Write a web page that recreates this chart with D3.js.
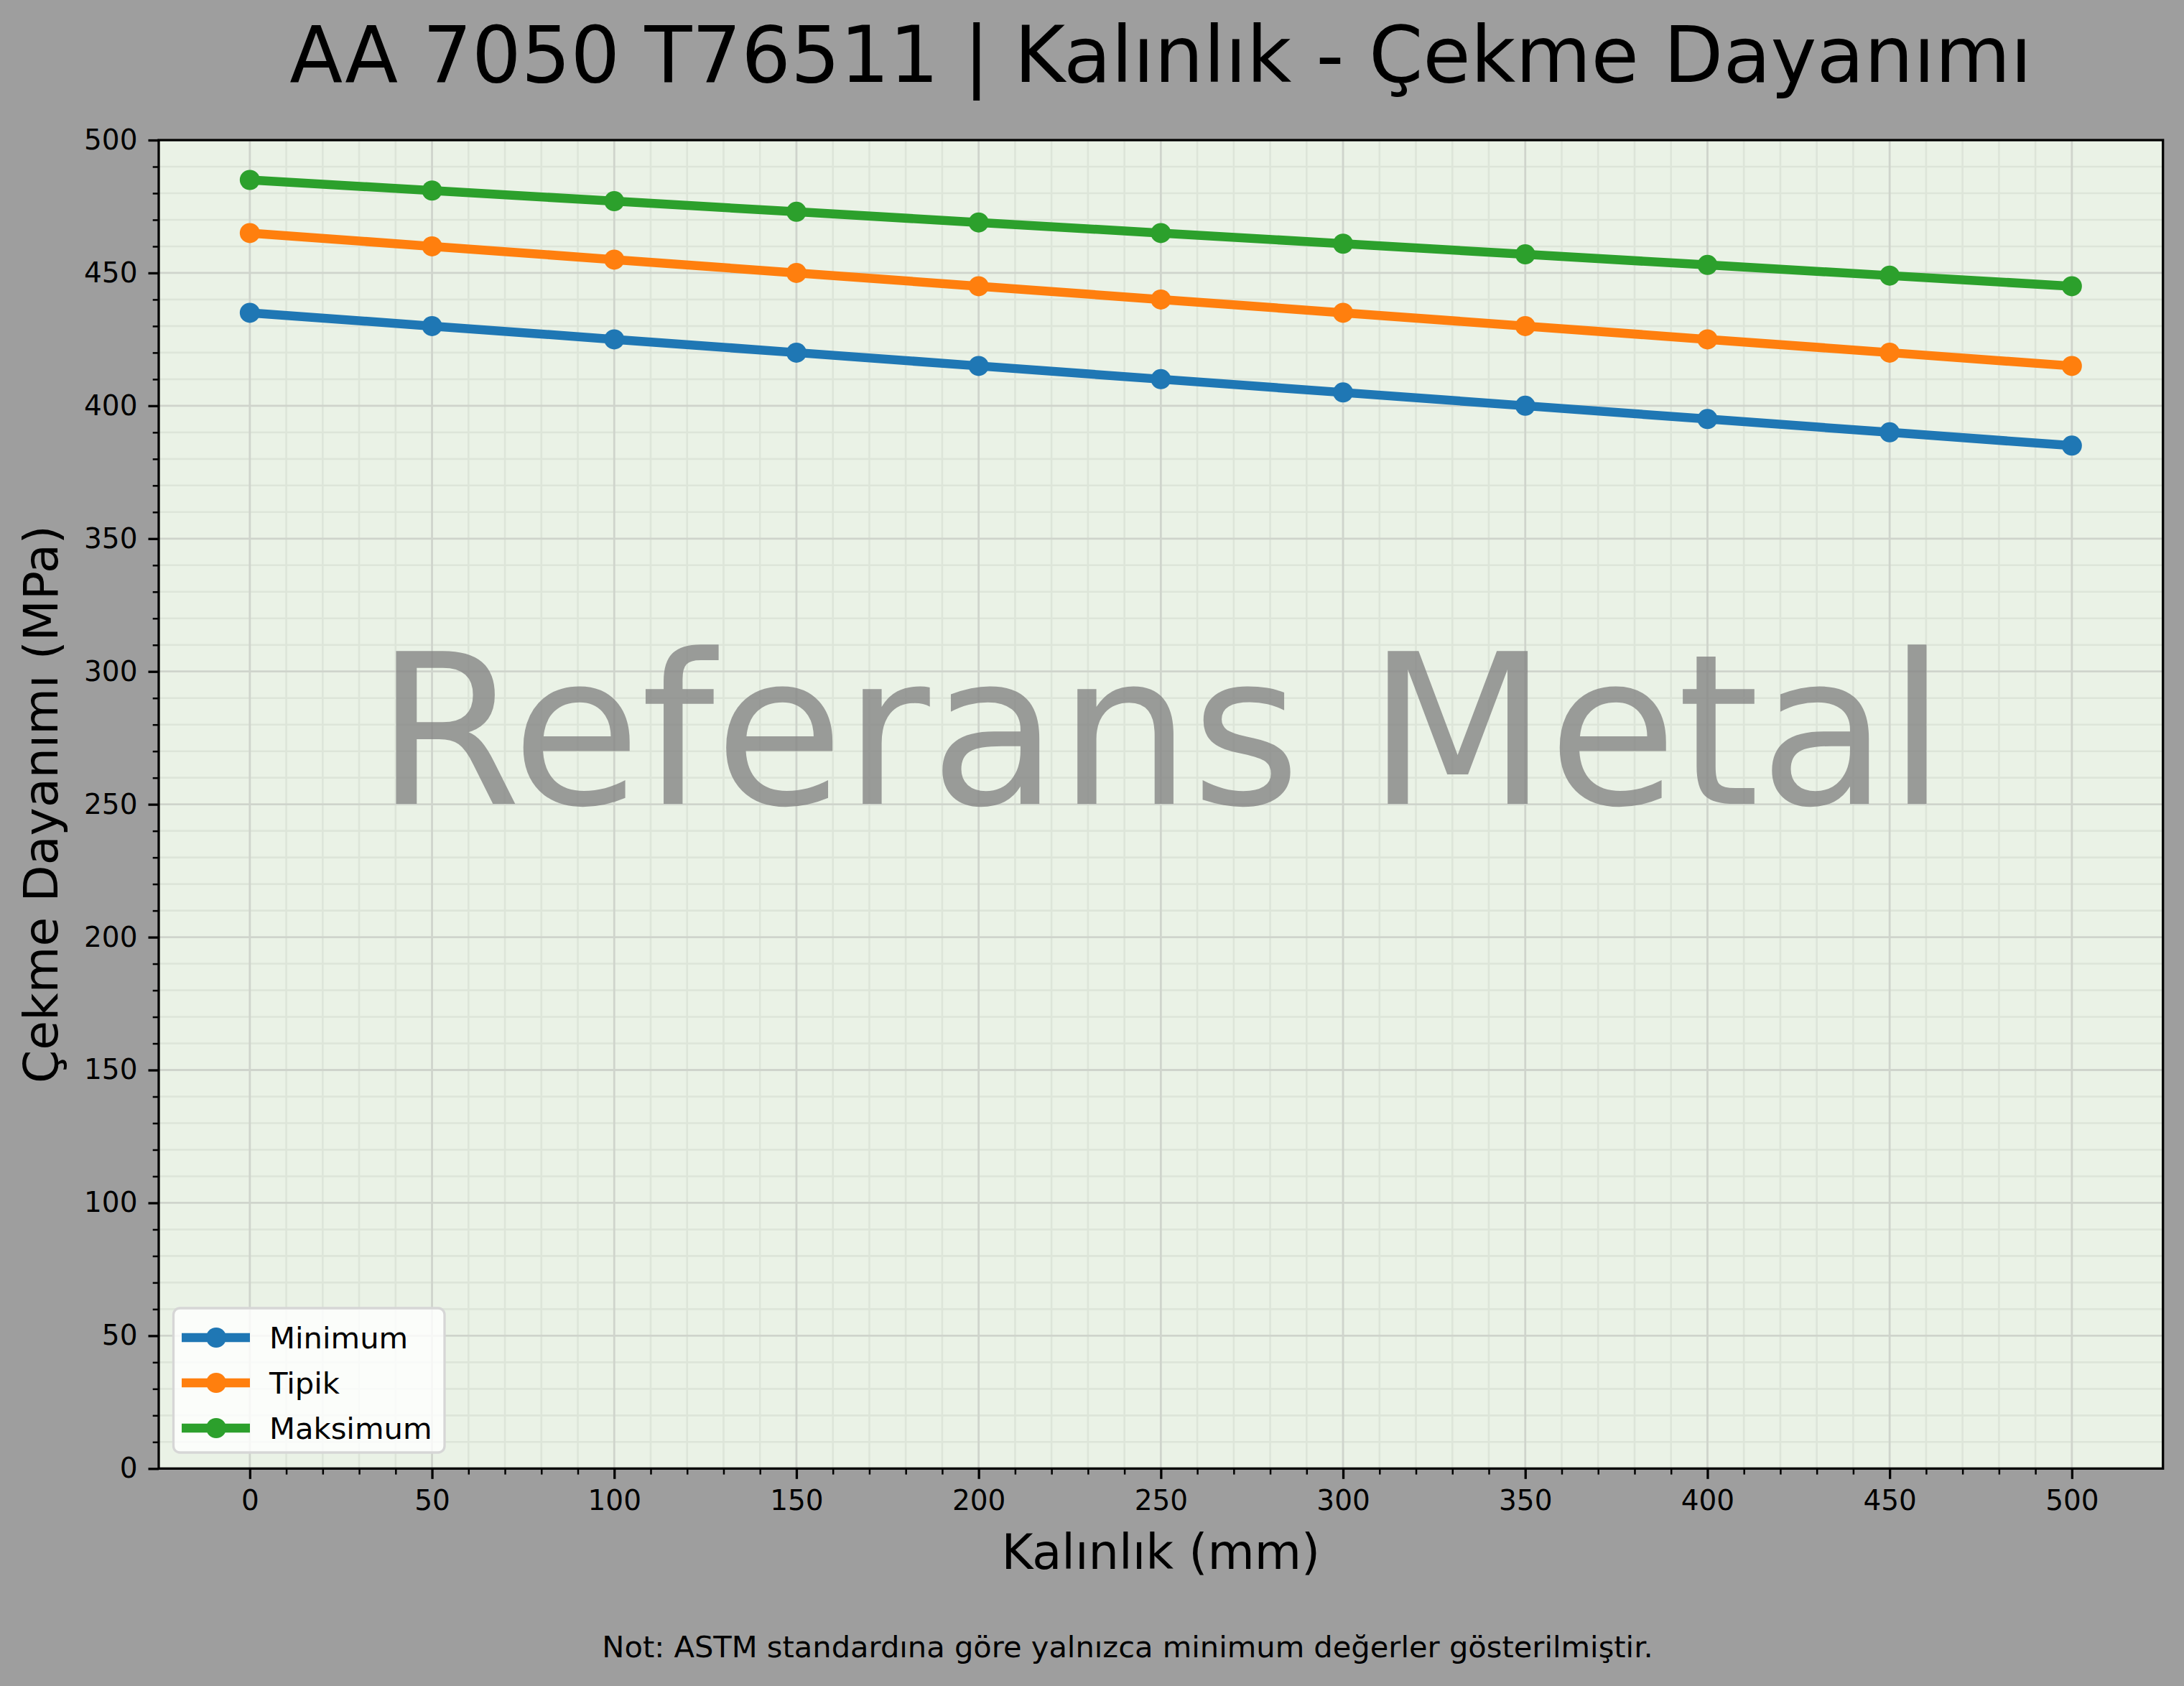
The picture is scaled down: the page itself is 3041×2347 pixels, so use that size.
<!DOCTYPE html>
<html>
<head>
<meta charset="utf-8">
<script src="https://cdn.jsdelivr.net/npm/d3@7"></script>
<style>
  html, body { margin: 0; padding: 0; background: #9e9e9e; }
  svg { display: block; }
  text { font-family: "DejaVu Sans", sans-serif; }
</style>
</head>
<body>
<svg id="chart" width="3041" height="2347"></svg>
<script>
// ---- data ----
const thickness = [0, 50, 100, 150, 200, 250, 300, 350, 400, 450, 500];
const minimumValues = [435, 430, 425, 420, 415, 410, 405, 400, 395, 390, 385];
const tipikValues = [465, 460, 455, 450, 445, 440, 435, 430, 425, 420, 415];
const maksimumValues = [485, 481, 477, 473, 469, 465, 461, 457, 453, 449, 445];
const seriesNames = ["Minimum", "Tipik", "Maksimum"];
const seriesColors = ["#1f77b4", "#ff7f0e", "#2ca02c"];
const xTickValues = [0, 50, 100, 150, 200, 250, 300, 350, 400, 450, 500];
const yTickValues = [0, 50, 100, 150, 200, 250, 300, 350, 400, 450, 500];
const titleText = "AA 7050 T76511 | Kalınlık - Çekme Dayanımı";
const xLabelText = "Kalınlık (mm)";
const yLabelText = "Çekme Dayanımı (MPa)";
const watermarkText = "Referans Metal";
const noteText = "Not: ASTM standardına göre yalnızca minimum değerler gösterilmiştir.";

// ---- layout ----
const W = 3041, H = 2347;
const plot = { left: 221, right: 3011.7, top: 195, bottom: 2044.3 };

const svg = d3.select("#chart");
svg.append("rect").attr("width", W).attr("height", H).attr("fill", "#9e9e9e");

const x = d3.scaleLinear().domain([-25, 525]).range([plot.left, plot.right]);
const y = d3.scaleLinear().domain([0, 500]).range([plot.bottom, plot.top]);

// axes background
svg.append("rect")
  .attr("x", plot.left).attr("y", plot.top)
  .attr("width", plot.right - plot.left).attr("height", plot.bottom - plot.top)
  .attr("fill", "#eaf2e6");

// minor grid
const xMinor = d3.range(0, 501, 10).filter(v => v % 50 !== 0);
const yMinor = d3.range(0, 501, 10).filter(v => v % 50 !== 0);
const gridG = svg.append("g");
gridG.selectAll(".xminor").data(xMinor).enter().append("line")
  .attr("x1", d => x(d)).attr("x2", d => x(d))
  .attr("y1", plot.top).attr("y2", plot.bottom)
  .attr("stroke", "#dde5d9").attr("stroke-width", 2.6);
gridG.selectAll(".yminor").data(yMinor).enter().append("line")
  .attr("x1", plot.left).attr("x2", plot.right)
  .attr("y1", d => y(d)).attr("y2", d => y(d))
  .attr("stroke", "#dde5d9").attr("stroke-width", 2.6);
// major grid
gridG.selectAll(".xmajor").data(xTickValues).enter().append("line")
  .attr("x1", d => x(d)).attr("x2", d => x(d))
  .attr("y1", plot.top).attr("y2", plot.bottom)
  .attr("stroke", "#cfd4cc").attr("stroke-width", 2.8);
gridG.selectAll(".ymajor").data(yTickValues).enter().append("line")
  .attr("x1", plot.left).attr("x2", plot.right)
  .attr("y1", d => y(d)).attr("y2", d => y(d))
  .attr("stroke", "#cfd4cc").attr("stroke-width", 2.8);

// watermark
svg.append("text")
  .attr("x", (plot.left + plot.right) / 2)
  .attr("y", 1119)
  .attr("text-anchor", "middle")
  .attr("font-size", 292)
  .attr("fill", "#808080")
  .attr("fill-opacity", 0.76)
  .text(watermarkText);

// series
const allSeries = [minimumValues, tipikValues, maksimumValues];
const line = d3.line().x((d, i) => x(thickness[i])).y(d => y(d));
allSeries.forEach((vals, si) => {
  svg.append("path")
    .datum(vals)
    .attr("d", line)
    .attr("fill", "none")
    .attr("stroke", seriesColors[si])
    .attr("stroke-width", 12.5)
    .attr("stroke-linejoin", "round")
    .attr("stroke-linecap", "butt");
  svg.append("g").selectAll("circle").data(vals).enter().append("circle")
    .attr("cx", (d, i) => x(thickness[i]))
    .attr("cy", d => y(d))
    .attr("r", 14)
    .attr("fill", seriesColors[si]);
});

// spines
svg.append("rect")
  .attr("x", plot.left).attr("y", plot.top)
  .attr("width", plot.right - plot.left).attr("height", plot.bottom - plot.top)
  .attr("fill", "none").attr("stroke", "#000").attr("stroke-width", 3.3);

// x axis (major)
const xAxis = d3.axisBottom(x).tickValues(xTickValues).tickSize(14.5).tickPadding(16).tickFormat(d3.format("d"));
const gx = svg.append("g").attr("transform", `translate(0,${plot.bottom})`).call(xAxis);
gx.select(".domain").remove();
gx.selectAll(".tick line").attr("stroke", "#000").attr("stroke-width", 3.3);
gx.selectAll(".tick text").attr("font-size", 39).attr("fill", "#000")
  .attr("font-family", "DejaVu Sans").attr("dy", "0.71em");
// x minor ticks
const gxm = svg.append("g").attr("transform", `translate(0,${plot.bottom})`)
  .call(d3.axisBottom(x).tickValues(xMinor).tickSize(8.3).tickFormat(""));
gxm.select(".domain").remove();
gxm.selectAll(".tick line").attr("stroke", "#000").attr("stroke-width", 2.5);

// y axis (major)
const yAxis = d3.axisLeft(y).tickValues(yTickValues).tickSize(14.5).tickPadding(15).tickFormat(d3.format("d"));
const gy = svg.append("g").attr("transform", `translate(${plot.left},0)`).call(yAxis);
gy.select(".domain").remove();
gy.selectAll(".tick line").attr("stroke", "#000").attr("stroke-width", 3.3);
gy.selectAll(".tick text").attr("font-size", 39).attr("fill", "#000")
  .attr("font-family", "DejaVu Sans");
// y minor ticks
const gym = svg.append("g").attr("transform", `translate(${plot.left},0)`)
  .call(d3.axisLeft(y).tickValues(yMinor).tickSize(8.3).tickFormat(""));
gym.select(".domain").remove();
gym.selectAll(".tick line").attr("stroke", "#000").attr("stroke-width", 2.5);

// title
svg.append("text")
  .attr("x", (plot.left + plot.right) / 2).attr("y", 114)
  .attr("text-anchor", "middle").attr("font-size", 108).attr("fill", "#000")
  .text(titleText);

// axis labels
svg.append("text")
  .attr("x", (plot.left + plot.right) / 2).attr("y", 2184)
  .attr("text-anchor", "middle").attr("font-size", 67).attr("fill", "#000")
  .text(xLabelText);
svg.append("text")
  .attr("transform", `translate(80,${(plot.top + plot.bottom) / 2}) rotate(-90)`)
  .attr("text-anchor", "middle").attr("font-size", 66.5).attr("fill", "#000")
  .text(yLabelText);

// footnote
svg.append("text")
  .attr("x", 1570).attr("y", 2307)
  .attr("text-anchor", "middle").attr("font-size", 41.6).attr("fill", "#000")
  .text(noteText);

// legend
const legend = svg.append("g");
legend.append("rect")
  .attr("x", 241.5).attr("y", 1821).attr("width", 377.5).attr("height", 201)
  .attr("rx", 9).attr("ry", 9)
  .attr("fill", "#ffffff").attr("fill-opacity", 0.8)
  .attr("stroke", "#d6d6d6").attr("stroke-width", 3.3);
const legendRowsY = [1862, 1925, 1988];
seriesNames.forEach((name, i) => {
  const ly = legendRowsY[i];
  legend.append("line")
    .attr("x1", 253).attr("x2", 348).attr("y1", ly).attr("y2", ly)
    .attr("stroke", seriesColors[i]).attr("stroke-width", 12.5);
  legend.append("circle").attr("cx", 301).attr("cy", ly).attr("r", 14).attr("fill", seriesColors[i]);
  legend.append("text")
    .attr("x", 375).attr("y", ly).attr("dy", "0.36em")
    .attr("font-size", 41.7).attr("fill", "#000")
    .text(name);
});
</script>
</body>
</html>
